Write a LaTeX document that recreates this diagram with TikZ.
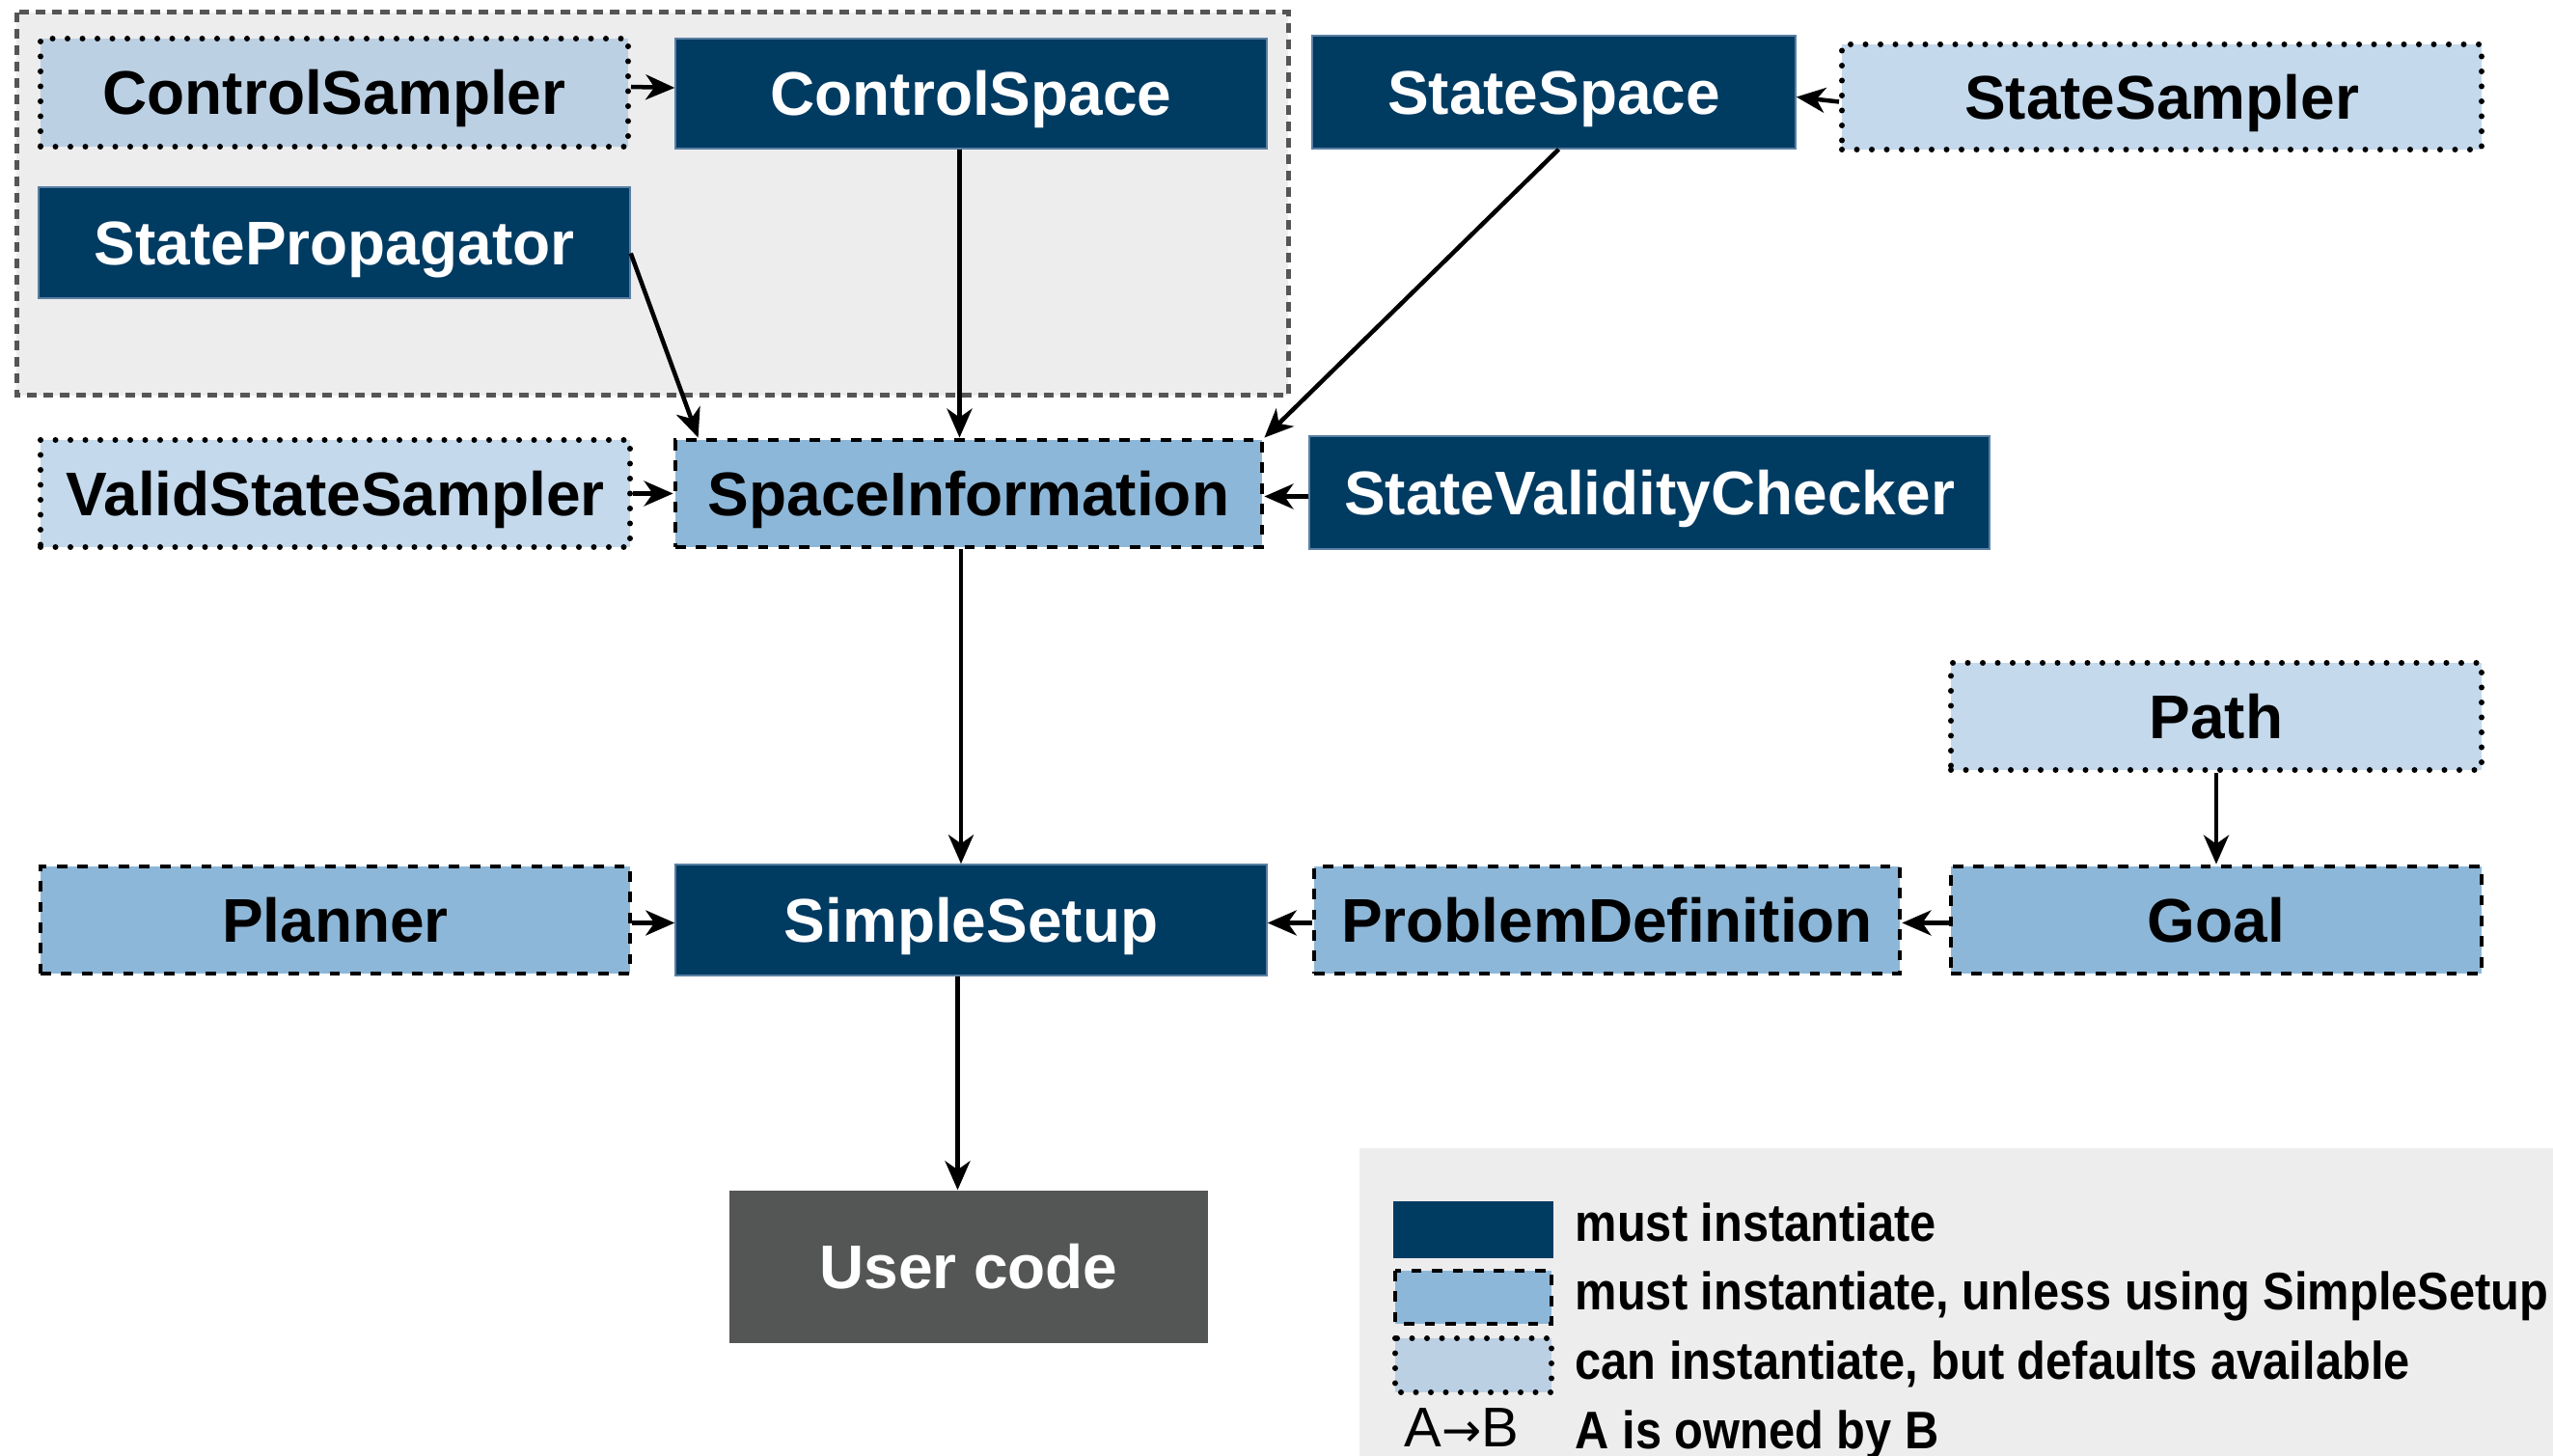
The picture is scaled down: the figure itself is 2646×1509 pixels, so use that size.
\documentclass[tikz,border=0pt]{standalone}
\usepackage{fontspec}
\setmainfont{Liberation Sans}
\newfontfamily\legfont[FakeStretch=0.89]{Liberation Sans}
\newfontfamily\arrowfont{DejaVu Sans}
\usetikzlibrary{arrows.meta,calc}
\definecolor{navy}{HTML}{003B62}
\definecolor{navyedge}{HTML}{5A7FA3}
\definecolor{midblue}{HTML}{8DB7D8}
\definecolor{lightblue}{HTML}{C4D9EC}
\definecolor{lightbluegray}{HTML}{BCD0E4}
\definecolor{groupgray}{HTML}{EDEDED}
\definecolor{groupedge}{HTML}{555555}
\definecolor{usergray}{HTML}{545655}
\begin{document}
\begin{tikzpicture}[x=0.1mm,y=-0.1mm,
  basebox/.style={rectangle, inner sep=0pt, text height=13pt, text depth=0pt,
    font=\fontsize{18.2}{20}\selectfont\bfseries, align=center},
  mustbox/.style={basebox, fill=navy, draw=navyedge, line width=0.15mm, text=white},
  unlessbox/.style={basebox, fill=midblue, draw=black, line width=0.48mm,
    dash pattern=on 1.07mm off 1.07mm, text=black},
  canbox/.style={basebox, fill=lightblue, draw=black, line width=0.6mm,
    dash pattern=on 0pt off 1.55mm, line cap=round, text=black},
  usercode/.style={basebox, fill=usergray, text=white},
  owns/.style={-{Stealth[length=3mm,width=2.6mm,inset=0.9mm]}, line width=0.45mm, black},
  legtext/.style={anchor=base west, inner sep=0pt, font=\legfont\fontsize{15.6}{18}\selectfont\bfseries}
]
\useasboundingbox (0,0) rectangle (2646,1509);

% group box
\path[fill=groupgray, draw=groupedge, line width=0.5mm, dash pattern=on 1mm off 0.7mm]
  (17,13) rectangle (1335,410);

% legend background
\path[fill=groupgray] (1409,1190) rectangle (2646,1509);

% nodes
\node[canbox, fill=lightbluegray, minimum width=60.9mm, minimum height=11.2mm] (csamp) at (346.5,96) {ControlSampler};
\node[mustbox, minimum width=61.3mm, minimum height=11.4mm] (cspace) at (1006.5,97) {ControlSpace};
\node[mustbox, minimum width=61.3mm, minimum height=11.5mm] (sprop) at (346.5,251.5) {StatePropagator};
\node[mustbox, minimum width=50.1mm, minimum height=11.7mm] (sspace) at (1610.5,95.5) {StateSpace};
\node[canbox, minimum width=66.3mm, minimum height=10.9mm] (ssamp) at (2240.5,100.5) {StateSampler};
\node[canbox, minimum width=61.1mm, minimum height=11.1mm] (vss) at (347.5,511.5) {ValidStateSampler};
\node[unlessbox, minimum width=60.8mm, minimum height=11.1mm] (si) at (1004,511.5) {SpaceInformation};
\node[mustbox, minimum width=70.5mm, minimum height=11.7mm] (svc) at (1709.5,510.5) {StateValidityChecker};
\node[canbox, minimum width=55.0mm, minimum height=11.1mm] (path) at (2297,742.5) {Path};
\node[unlessbox, minimum width=61.1mm, minimum height=11.1mm] (planner) at (347.5,953.5) {Planner};
\node[mustbox, minimum width=61.3mm, minimum height=11.5mm] (ss) at (1006.5,953.5) {SimpleSetup};
\node[unlessbox, minimum width=60.7mm, minimum height=11.1mm] (pdef) at (1665.5,953.5) {ProblemDefinition};
\node[unlessbox, minimum width=55.0mm, minimum height=11.1mm] (goal) at (2297,953.5) {Goal};
\node[usercode, minimum width=49.6mm, minimum height=15.8mm] (user) at (1004,1313) {User code};

% connectors
\draw[owns] ([yshift=0.6mm]csamp.east) -- ([yshift=0.6mm]cspace.west);
\draw[owns] ([yshift=-0.5mm]ssamp.west) -- (ssamp.west -| sspace.east);
\draw[owns] ([xshift=-1.2mm]cspace.south) -- ([xshift=-1.2mm]cspace.south |- si.north);
\draw[owns] ([yshift=-1.1mm]sprop.east) -- ($(si.north west)+(26,0)$);
\draw[owns] ([xshift=0.5mm]sspace.south) -- (si.north east);
\draw[owns] (vss.east) -- (si.west);
\draw[owns] ([yshift=-0.4mm]svc.west) -- ([yshift=-0.4mm]svc.west -| si.east);
\draw[owns] ([xshift=-0.8mm]si.south) -- ([xshift=-0.8mm]si.south |- ss.north);
\draw[owns] ([yshift=-0.3mm]planner.east) -- ([yshift=-0.3mm]planner.east -| ss.west);
\draw[owns] ([yshift=-0.3mm]pdef.west) -- ([yshift=-0.3mm]pdef.west -| ss.east);
\draw[owns] ([yshift=-0.3mm]goal.west) -- ([yshift=-0.3mm]goal.west -| pdef.east);
\draw[owns] (path.south) -- (goal.north);
\draw[owns] ([xshift=-1.4mm]ss.south) -- ([xshift=-1.4mm]ss.south |- user.north);

% legend
\path[fill=navy] (1444,1245) rectangle (1610,1304);
\path[fill=midblue, draw=black, line width=0.48mm, dash pattern=on 1.07mm off 1.07mm] (1446,1317) rectangle (1608,1372);
\path[fill=lightbluegray, draw=black, line width=0.6mm, dash pattern=on 0pt off 1.55mm, line cap=round] (1446,1387) rectangle (1608,1443);
\node[legtext] (l1) at (1632,1287) {must instantiate};
\node[legtext] (l2) at (1632,1357) {must instantiate, unless using SimpleSetup};
\node[legtext] (l3) at (1632,1430) {can instantiate, but defaults available};
\node[legtext] (l4) at (1632,1502) {A is owned by B};
\node[anchor=base west, inner sep=0pt, font=\fontsize{16.5}{18}\selectfont] (l4k) at (1455,1500) {A{\arrowfont\fontsize{14}{16}\selectfont →}B};
\end{tikzpicture}
\end{document}
